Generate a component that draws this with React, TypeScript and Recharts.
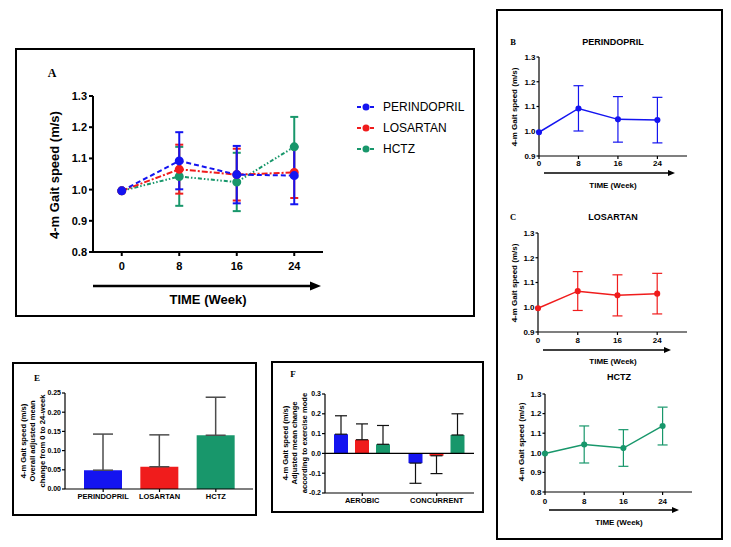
import React from 'react';
import { LineChart, Line, BarChart, Bar, Cell, XAxis, YAxis, ErrorBar, Legend, ReferenceLine } from 'recharts';

const FONT = "'Liberation Sans', Arial, sans-serif";
const SERIF = "'Liberation Serif', 'Times New Roman', serif";

const BLUE = '#1414f0';
const RED = '#f01c1c';
const GREEN = '#18976b';

// gait speed over time (m/s), mean with lower / upper error limits
const weeks = [0, 8, 16, 24];
const perMean = [0.996, 1.092, 1.048, 1.045];
const perLow = [0.996, 1.001, 0.956, 0.953];
const perHigh = [0.996, 1.184, 1.14, 1.137];
const losMean = [0.996, 1.065, 1.048, 1.055];
const losLow = [0.996, 0.987, 0.965, 0.973];
const losHigh = [0.996, 1.144, 1.131, 1.137];
const hctzMean = [0.996, 1.042, 1.024, 1.137];
const hctzLow = [0.996, 0.948, 0.931, 1.04];
const hctzHigh = [0.996, 1.137, 1.118, 1.233];

// overall adjusted mean change 0 -> 24 weeks
const drugs = ['PERINDOPRIL', 'LOSARTAN', 'HCTZ'];
const drugColors = [BLUE, RED, GREEN];
const overallChange = [0.049, 0.058, 0.14];
const overallUpper = [0.143, 0.141, 0.239];

// adjusted mean change by exercise mode
const modes = ['AEROBIC', 'CONCURRENT'];
const perMode = [0.097, -0.049];
const perModeBound = [0.19, -0.151];
const losMode = [0.069, -0.012];
const losModeBound = [0.149, -0.102];
const hctzMode = [0.046, 0.093];
const hctzModeBound = [0.141, 0.2];

// no error bar where the limits collapse onto the mean (baseline)
const errOf = (m: number, lo: number, hi: number) => (lo === m && hi === m ? null : [m - lo, hi - m]);

const timeRows = weeks.map((w, i) => ({
  week: w,
  per: perMean[i],
  perErr: errOf(perMean[i], perLow[i], perHigh[i]),
  los: losMean[i],
  losErr: errOf(losMean[i], losLow[i], losHigh[i]),
  hctz: hctzMean[i],
  hctzErr: errOf(hctzMean[i], hctzLow[i], hctzHigh[i]),
}));

const oneSided = (v: number, b: number) => (v >= 0 ? [0, b - v] : [v - b, 0]);

const overallRows = drugs.map((d, i) => ({
  name: d,
  change: overallChange[i],
  err: oneSided(overallChange[i], overallUpper[i]),
}));

const modeRows = modes.map((m, i) => ({
  mode: m,
  per: perMode[i],
  perErr: oneSided(perMode[i], perModeBound[i]),
  los: losMode[i],
  losErr: oneSided(losMode[i], losModeBound[i]),
  hctz: hctzMode[i],
  hctzErr: oneSided(hctzMode[i], hctzModeBound[i]),
}));

type Plot = { x0: number; x1: number; y0: number; y1: number };
type Ext = { l: number; r: number; t: number; b: number };

// place a chart so that its plot area lands on the given page rectangle
function frame(p: Plot, yW: number, xH: number, ext: Ext) {
  const left = p.x0 - ext.l;
  const top = p.y0 - ext.t;
  return {
    left,
    top,
    width: p.x1 - p.x0 + ext.l + ext.r,
    height: p.y1 - p.y0 + ext.t + ext.b,
    margin: { left: ext.l - yW, right: ext.r, top: ext.t, bottom: ext.b - xH },
  };
}

const seriesA = [
  { key: 'hctz', name: 'HCTZ', color: GREEN, dash: '4 2 1.5 2 1.5 2' },
  { key: 'los', name: 'LOSARTAN', color: RED, dash: '6 2 2 2' },
  { key: 'per', name: 'PERINDOPRIL', color: BLUE, dash: '5 3' },
];
const legendOrder = ['PERINDOPRIL', 'LOSARTAN', 'HCTZ'];

const renderLegend = (props: any) => {
  const items = [...(props.payload || [])].sort(
    (a: any, b: any) => legendOrder.indexOf(a.value) - legendOrder.indexOf(b.value)
  );
  return (
    <div style={{ fontFamily: FONT }}>
      {items.map((it: any) => (
        <div key={it.value} style={{ display: 'flex', alignItems: 'center', height: 21 }}>
          <svg width={18} height={10}>
            <line x1={0} y1={5} x2={18} y2={5} stroke={it.color} strokeWidth={2} strokeDasharray="4 2.5" />
            <circle cx={9} cy={5} r={3.5} fill={it.color} />
          </svg>
          <span style={{ marginLeft: 8, fontSize: 12, color: '#000' }}>{it.value}</span>
        </div>
      ))}
    </div>
  );
};

const PanelA = () => {
  const f = frame({ x0: 93, x1: 323, y0: 96, y1: 252 }, 40, 24, { l: 60, r: 150, t: 40, b: 40 });
  const tick = { fontSize: 11, fontWeight: 700, fill: '#000', fontFamily: FONT };
  const ax = { stroke: '#000', strokeWidth: 2 };
  return (
    <div style={{ position: 'absolute', left: f.left, top: f.top }}>
      <LineChart width={f.width} height={f.height} data={timeRows} margin={f.margin}>
        <XAxis
          dataKey="week"
          type="number"
          domain={[-4, 28]}
          ticks={weeks}
          interval={0}
          height={24}
          tick={tick}
          axisLine={ax}
          tickLine={ax}
          tickSize={4}
          tickMargin={6}
        />
        <YAxis
          type="number"
          domain={[0.8, 1.3]}
          ticks={[0.8, 0.9, 1.0, 1.1, 1.2, 1.3]}
          tickFormatter={(v: number) => v.toFixed(1)}
          width={40}
          tick={tick}
          axisLine={ax}
          tickLine={ax}
          tickSize={4}
          tickMargin={2}
        />
        <Legend
          layout="vertical"
          align="center"
          verticalAlign="middle"
          content={renderLegend}
          wrapperStyle={{ left: 324, top: 40, width: 150, margin: 0 }}
        />
        {seriesA.map((s) => (
          <Line
            key={s.key}
            dataKey={s.key}
            name={s.name}
            stroke={s.color}
            strokeWidth={2}
            strokeDasharray={s.dash}
            dot={{ r: 3.5, fill: s.color, stroke: s.color, strokeDasharray: '' }}
            activeDot={false}
            isAnimationActive={false}
          >
            <ErrorBar dataKey={s.key + 'Err'} width={4} stroke={s.color} strokeWidth={2} direction="y" isAnimationActive={false} />
          </Line>
        ))}
      </LineChart>
    </div>
  );
};

const SmallTime = ({ plot, domain, ticks, dataKey, color, tickMargin }: any) => {
  const f = frame(plot, 30, 16, { l: 42, r: 20, t: 20, b: 30 });
  const tick = { fontSize: 8, fontWeight: 700, fill: '#000', fontFamily: FONT };
  const ax = { stroke: '#000', strokeWidth: 1.2 };
  return (
    <div style={{ position: 'absolute', left: f.left, top: f.top }}>
      <LineChart width={f.width} height={f.height} data={timeRows} margin={f.margin}>
        <XAxis
          dataKey="week"
          type="number"
          domain={[0, 30]}
          ticks={weeks}
          interval={0}
          height={16}
          tick={tick}
          axisLine={ax}
          tickLine={ax}
          tickSize={3}
          tickMargin={tickMargin}
        />
        <YAxis
          type="number"
          domain={domain}
          ticks={ticks}
          tickFormatter={(v: number) => v.toFixed(1)}
          width={30}
          tick={tick}
          axisLine={ax}
          tickLine={ax}
          tickSize={2.5}
          tickMargin={1}
        />
        <Line
          dataKey={dataKey}
          stroke={color}
          strokeWidth={1.5}
          dot={{ r: 2.3, fill: color, stroke: color }}
          activeDot={false}
          isAnimationActive={false}
        >
          <ErrorBar dataKey={dataKey + 'Err'} width={5} stroke={color} strokeWidth={1.2} direction="y" isAnimationActive={false} />
        </Line>
      </LineChart>
    </div>
  );
};

const PanelE = () => {
  const f = frame({ x0: 65, x1: 253, y0: 393, y1: 489 }, 30, 16, { l: 40, r: 3, t: 20, b: 24 });
  const ax = { stroke: '#000', strokeWidth: 1.2 };
  return (
    <div style={{ position: 'absolute', left: f.left, top: f.top }}>
      <BarChart width={f.width} height={f.height} data={overallRows} margin={f.margin} barSize={38}>
        <XAxis
          dataKey="name"
          height={16}
          padding={{ left: 10, right: 9 }}
          interval={0}
          tick={{ fontSize: 7.5, fontWeight: 700, fill: '#000', fontFamily: FONT }}
          axisLine={ax}
          tickLine={ax}
          tickSize={3}
          tickMargin={2}
        />
        <YAxis
          type="number"
          domain={[0, 0.25]}
          ticks={[0, 0.05, 0.1, 0.15, 0.2, 0.25]}
          tickFormatter={(v: number) => v.toFixed(2)}
          width={30}
          tick={{ fontSize: 7, fontWeight: 700, fill: '#000', fontFamily: FONT }}
          axisLine={ax}
          tickLine={ax}
          tickSize={3}
          tickMargin={1}
        />
        <Bar dataKey="change" isAnimationActive={false}>
          {overallRows.map((r, i) => (
            <Cell key={r.name} fill={drugColors[i]} />
          ))}
          <ErrorBar dataKey="err" width={10} stroke="#4d4d4d" strokeWidth={1.5} direction="y" isAnimationActive={false} />
        </Bar>
      </BarChart>
    </div>
  );
};

const PanelF = () => {
  const f = frame({ x0: 325, x1: 474, y0: 394, y1: 493 }, 30, 16, { l: 40, r: 8, t: 20, b: 22 });
  const ax = { stroke: '#000', strokeWidth: 1.2 };
  const bars = [
    { key: 'per', color: BLUE },
    { key: 'los', color: RED },
    { key: 'hctz', color: GREEN },
  ];
  return (
    <div style={{ position: 'absolute', left: f.left, top: f.top }}>
      <BarChart width={f.width} height={f.height} data={modeRows} margin={f.margin} barSize={14} barGap={7}>
        <XAxis
          dataKey="mode"
          height={16}
          interval={0}
          tick={{ fontSize: 7.5, fontWeight: 700, fill: '#000', fontFamily: FONT }}
          axisLine={ax}
          tickLine={ax}
          tickSize={3}
          tickMargin={2}
        />
        <YAxis
          type="number"
          domain={[-0.2, 0.3]}
          ticks={[-0.2, -0.1, 0, 0.1, 0.2, 0.3]}
          tickFormatter={(v: number) => v.toFixed(1)}
          width={30}
          tick={{ fontSize: 7, fontWeight: 700, fill: '#000', fontFamily: FONT }}
          axisLine={ax}
          tickLine={ax}
          tickSize={3}
          tickMargin={1}
        />
        <ReferenceLine y={0} stroke="#000" strokeWidth={1.2} />
        {bars.map((b) => (
          <Bar key={b.key} dataKey={b.key} fill={b.color} isAnimationActive={false}>
            <ErrorBar dataKey={b.key + 'Err'} width={6} stroke="#111" strokeWidth={1.2} direction="y" isAnimationActive={false} />
          </Bar>
        ))}
      </BarChart>
    </div>
  );
};

const Box = ({ x, y, w, h, bw = 2 }: any) => (
  <div
    style={{
      position: 'absolute',
      left: x,
      top: y,
      width: w,
      height: h,
      border: `${bw}px solid #000`,
      boxSizing: 'border-box',
    }}
  />
);

const Arrow = ({ x0, x1, y, sw, head, half }: any) => (
  <g>
    <line x1={x0} y1={y} x2={x1 - head + 1} y2={y} stroke="#000" strokeWidth={sw} />
    <polygon points={`${x1 - head},${y - half} ${x1},${y} ${x1 - head},${y + half}`} fill="#000" />
  </g>
);

const T = ({ x, y, size, children, serif = false, rotate = false }: any) => (
  <text
    x={x}
    y={y}
    fontSize={size}
    fontWeight={700}
    fontFamily={serif ? SERIF : FONT}
    textAnchor="middle"
    dominantBaseline="central"
    fill="#000"
    transform={rotate ? `rotate(-90 ${x} ${y})` : undefined}
  >
    {children}
  </text>
);

export default function App() {
  return (
    <div style={{ position: 'absolute', left: 0, top: 0, width: 731, height: 547, background: '#fff', overflow: 'hidden' }}>
      <Box x={15} y={48} w={460} h={269} bw={2.5} />
      <Box x={496} y={9} w={227} h={531} />
      <Box x={12} y={362} w={245} h={154} />
      <Box x={271} y={361} w={213} h={152} />

      <PanelA />
      <SmallTime plot={{ x0: 539, x1: 687, y0: 57, y1: 156 }} domain={[0.9, 1.3]} ticks={[0.9, 1.0, 1.1, 1.2, 1.3]} dataKey="per" color={BLUE} tickMargin={1} />
      <SmallTime plot={{ x0: 538, x1: 687, y0: 233, y1: 332 }} domain={[0.9, 1.3]} ticks={[0.9, 1.0, 1.1, 1.2, 1.3]} dataKey="los" color={RED} tickMargin={2} />
      <SmallTime plot={{ x0: 545, x1: 692, y0: 394, y1: 492 }} domain={[0.8, 1.3]} ticks={[0.8, 0.9, 1.0, 1.1, 1.2, 1.3]} dataKey="hctz" color={GREEN} tickMargin={3} />
      <PanelE />
      <PanelF />

      <svg width={731} height={547} style={{ position: 'absolute', left: 0, top: 0, pointerEvents: 'none' }}>
        <T x={52} y={73} size={12} serif>A</T>
        <T x={513} y={42} size={8.5} serif>B</T>
        <T x={513} y={217} size={8.5} serif>C</T>
        <T x={520} y={377} size={8.5} serif>D</T>
        <T x={37} y={378} size={9} serif>E</T>
        <T x={293} y={374} size={9} serif>F</T>

        <T x={613} y={42} size={9}>PERINDOPRIL</T>
        <T x={613} y={217} size={9}>LOSARTAN</T>
        <T x={619} y={377} size={9}>HCTZ</T>

        <T x={54} y={175} size={13} rotate>4-m Gait speed (m/s)</T>
        <T x={514} y={107} size={8} rotate>4-m Gait speed (m/s)</T>
        <T x={514} y={283} size={8} rotate>4-m Gait speed (m/s)</T>
        <T x={521} y={442} size={8} rotate>4-m Gait speed (m/s)</T>

        <T x={23} y={441} size={7.6} rotate>4-m Gait speed (m/s)</T>
        <T x={32.5} y={441} size={7.6} rotate>Overall adjusted mean</T>
        <T x={42} y={441} size={7.6} rotate>change from 0 to 24-week</T>

        <T x={285} y={443} size={7.6} rotate>4-m Gait speed (m/s)</T>
        <T x={294.5} y={443} size={7.6} rotate>Adjusted mean change</T>
        <T x={304} y={443} size={7.6} rotate>according to exercise mode</T>

        <Arrow x0={93} x1={321} y={286} sw={2.3} head={11} half={4.5} />
        <Arrow x0={544} x1={675} y={173} sw={1.6} head={7} half={3} />
        <Arrow x0={543} x1={671} y={350} sw={1.6} head={7} half={3} />
        <Arrow x0={549} x1={679} y={510} sw={1.6} head={7} half={3} />

        <T x={208} y={299} size={13}>TIME (Week)</T>
        <T x={613} y={185} size={8}>TIME (Week)</T>
        <T x={613} y={361} size={8}>TIME (Week)</T>
        <T x={619} y={522} size={8}>TIME (Week)</T>
      </svg>
    </div>
  );
}
